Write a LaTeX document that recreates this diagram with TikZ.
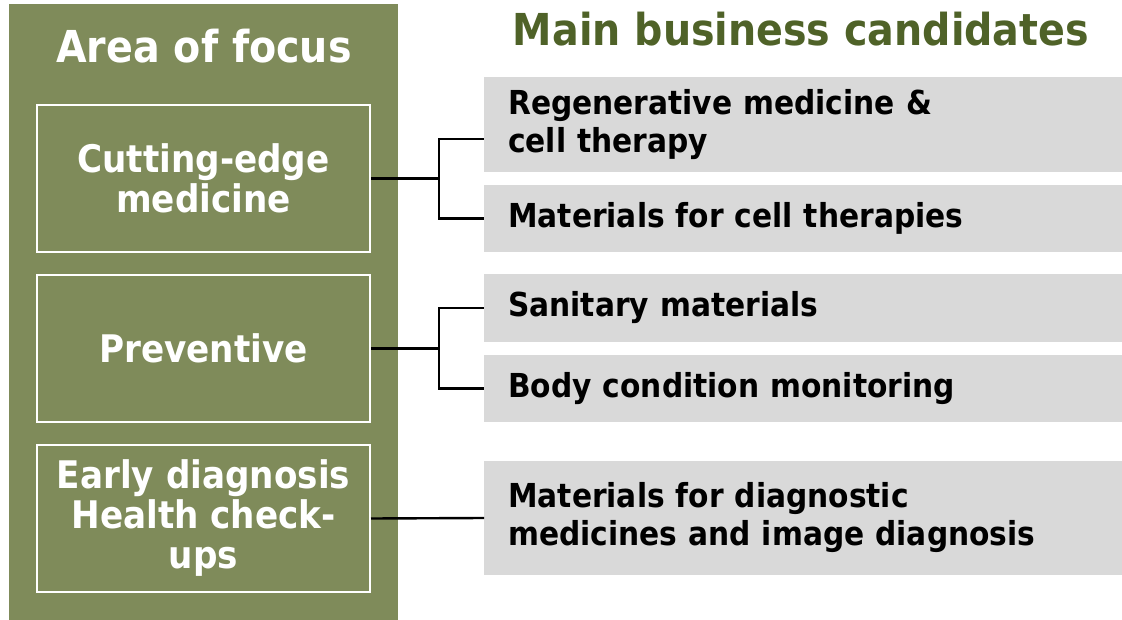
\documentclass[tikz,border=0pt]{standalone}
\usepackage{fontspec}
\setmainfont{DejaVu Sans}[FakeStretch=0.9]
\usetikzlibrary{calc}
\definecolor{panelgreen}{HTML}{7F8B5A}
\definecolor{titlegreen}{HTML}{4F6228}
\definecolor{boxgray}{HTML}{D9D9D9}
\begin{document}
\begin{tikzpicture}[x=1pt,y=-1pt,
  lbox/.style={draw=white, line width=2pt, minimum width=333pt, minimum height=147pt, inner sep=0pt, align=center, text=white, font=\bfseries\fontsize{38}{40}\selectfont},
  rbox/.style={fill=boxgray, text width=590pt, inner xsep=24pt, inner ysep=0pt, align=left, anchor=west, font=\bfseries\fontsize{33}{38}\selectfont},
  link/.style={draw=black, line width=2.4pt}]
\useasboundingbox (0,0) rectangle (1122,620);
\fill[white] (0,0) rectangle (1122,620);
\fill[panelgreen] (9,4) rectangle (398,620);
\node[text=white, font=\bfseries\fontsize{44}{48}\selectfont] (areatitle) at (204,46) {Area of focus};
\node[text=titlegreen, font=\bfseries\fontsize{44}{48}\selectfont] (maintitle) at (801,29) {Main business candidates};

\node[lbox] (l1) at (203.5,178.5) {Cutting-edge\\medicine};
\node[lbox] (l2) at (203.5,348.5) {Preventive};
\node[lbox] (l3) at (203.5,518.5) {Early diagnosis\\Health check-\\ups};

\node[rbox, minimum height=95pt] (r1) at (484,124.5) {Regenerative medicine \&\\cell therapy};
\node[rbox, minimum height=67pt] (r2) at (484,218.5) {Materials for cell therapies};
\node[rbox, minimum height=68pt] (r3) at (484,308) {Sanitary materials};
\node[rbox, minimum height=67pt] (r4) at (484,388.5) {Body condition monitoring};
\node[rbox, minimum height=114pt] (r5) at (484,518) {Materials for diagnostic\\medicines and image diagnosis};

\coordinate (j1) at ($(l1.east)+(68,0)$);
\coordinate (j2) at ($(l2.east)+(68,0)$);
\draw[link] (l1.east) -- (j1) |- ($(r1.west)+(0,14.5)$);
\draw[link] (j1) |- (r2.west);
\draw[link] (l2.east) -- (j2) |- (r3.west);
\draw[link] (j2) |- (r4.west);
\draw[link] (l3.east) -- (r5.west);
\end{tikzpicture}
\end{document}
